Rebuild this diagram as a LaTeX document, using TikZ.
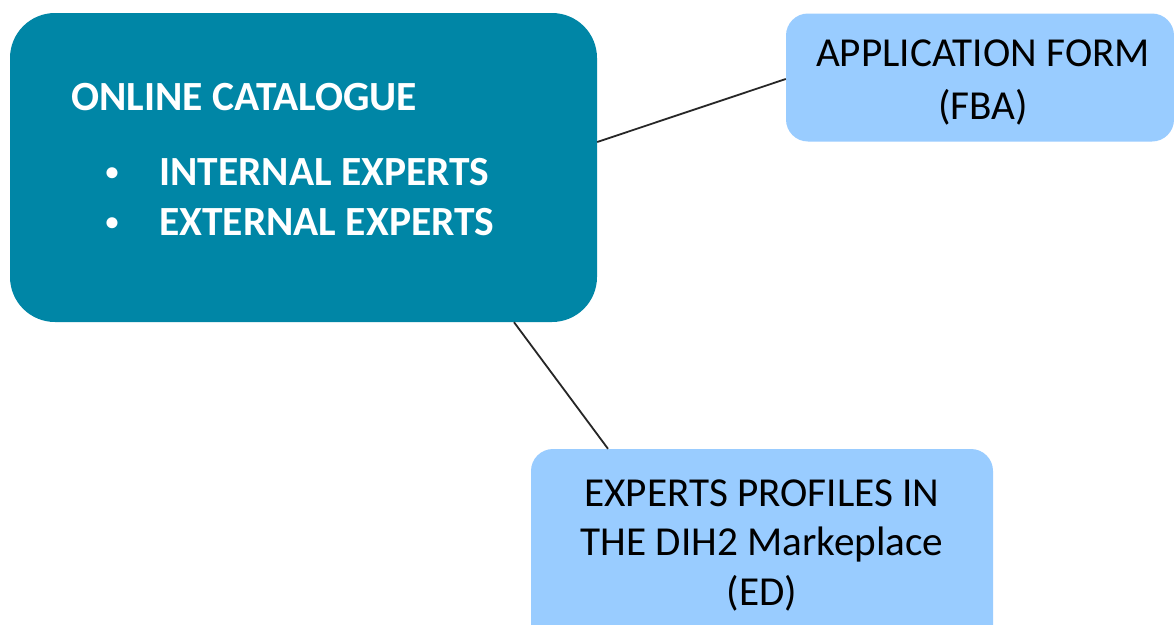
\documentclass[tikz,border=0pt]{standalone}
\usepackage{fontspec}
\setmainfont{Carlito}
\definecolor{teal1}{RGB}{0,134,166}
\definecolor{lblue}{RGB}{153,204,255}
\begin{document}
\begin{tikzpicture}[x=1pt,y=-1pt,
  bigbox/.style={draw=none,fill=teal1,rounded corners=45pt,inner sep=0pt},
  smallbox/.style={draw=none,fill=lblue,rounded corners=22pt,inner sep=0pt},
  wtext/.style={font=\fontsize{41.5}{48}\selectfont\bfseries,text=white,inner sep=0pt,anchor=base west},
  bullet/.style={font=\fontsize{26}{30}\selectfont\bfseries,text=white,inner sep=0pt,anchor=center},
  btext/.style={font=\fontsize{41.2}{53}\selectfont,text=black,inner sep=0pt,anchor=base},
  conn/.style={draw=black!85,line width=1.8pt}]
\useasboundingbox (0,0) rectangle (1174,624);
\fill[white] (0,0) rectangle (1174,624);
\node[bigbox,minimum width=587pt,minimum height=309pt] (big) at (303.5,167.5) {};
\node[smallbox,minimum width=388pt,minimum height=128pt] (app) at (980,77.5) {};
\node[smallbox,minimum width=462pt,minimum height=220pt] (exp) at (762,559) {};
\node[wtext] (t1) at (71,110) {ONLINE CATALOGUE};
\node[bullet] (b1) at (112,174) {•};
\node[wtext] (t2) at (159,185) {INTERNAL EXPERTS};
\node[bullet] (b2) at (112,224) {•};
\node[wtext] (t3) at (159,235) {EXTERNAL EXPERTS};
\node[btext] (a1) at (983,66) {APPLICATION FORM};
\node[btext] (a2) at (983,119) {(FBA)};
\node[btext] (e1) at (762,506) {EXPERTS PROFILES IN};
\node[btext] (e2) at (762,555) {THE DIH2 Markeplace};
\node[btext] (e3) at (762,605) {(ED)};
\draw[conn] ([yshift=25.5pt]big.east) -- ([yshift=-1.5pt]app.west);
\draw[conn] ([xshift=210.5pt]big.south) -- ([xshift=-154pt]exp.north);
\end{tikzpicture}
\end{document}
